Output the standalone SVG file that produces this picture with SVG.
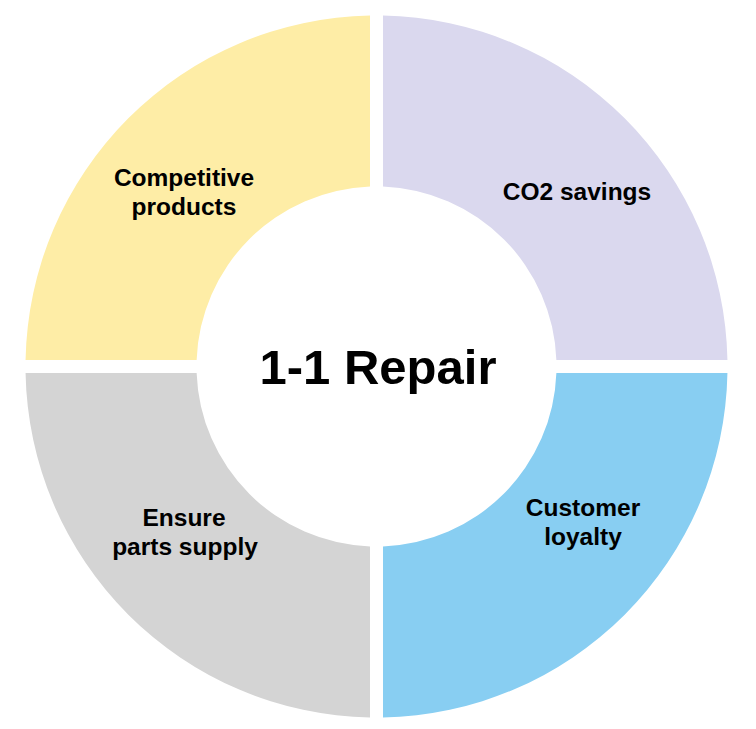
<svg xmlns="http://www.w3.org/2000/svg" width="756" height="729" viewBox="0 0 756 729">
<style>
.lbl{font-family:"Liberation Sans",Arial,sans-serif;font-weight:bold;font-size:24.5px;fill:#000;text-anchor:middle}
.title{font-family:"Liberation Sans",Arial,sans-serif;font-weight:bold;font-size:49px;fill:#000;text-anchor:middle}
</style>
<rect width="756" height="729" fill="#fff"/>
<g id="competitive">
<path d="M25.56 360 A351 351 0 0 1 370 15.56 L370 186.62 A180 180 0 0 0 196.62 360 Z" fill="#FEEDA6"/>
<text class="lbl" x="184" y="186">Competitive</text>
<text class="lbl" x="184" y="215">products</text>
</g>
<g id="co2">
<path d="M383 15.56 A351 351 0 0 1 727.44 360 L556.38 360 A180 180 0 0 0 383 186.62 Z" fill="#DAD8EE"/>
<text class="lbl" x="577" y="200">CO2 savings</text>
</g>
<g id="loyalty">
<path d="M727.44 373 A351 351 0 0 1 383 717.44 L383 546.38 A180 180 0 0 0 556.38 373 Z" fill="#88CEF2"/>
<text class="lbl" x="583" y="516">Customer</text>
<text class="lbl" x="583" y="545">loyalty</text>
</g>
<g id="parts">
<path d="M370 717.44 A351 351 0 0 1 25.56 373 L196.62 373 A180 180 0 0 0 370 546.38 Z" fill="#D4D4D4"/>
<text class="lbl" x="184" y="526">Ensure</text>
<text class="lbl" x="185" y="555">parts supply</text>
</g>
<g id="center">
<text class="title" x="378" y="384">1-1 Repair</text>
</g>
<g id="connectors"></g>
</svg>
